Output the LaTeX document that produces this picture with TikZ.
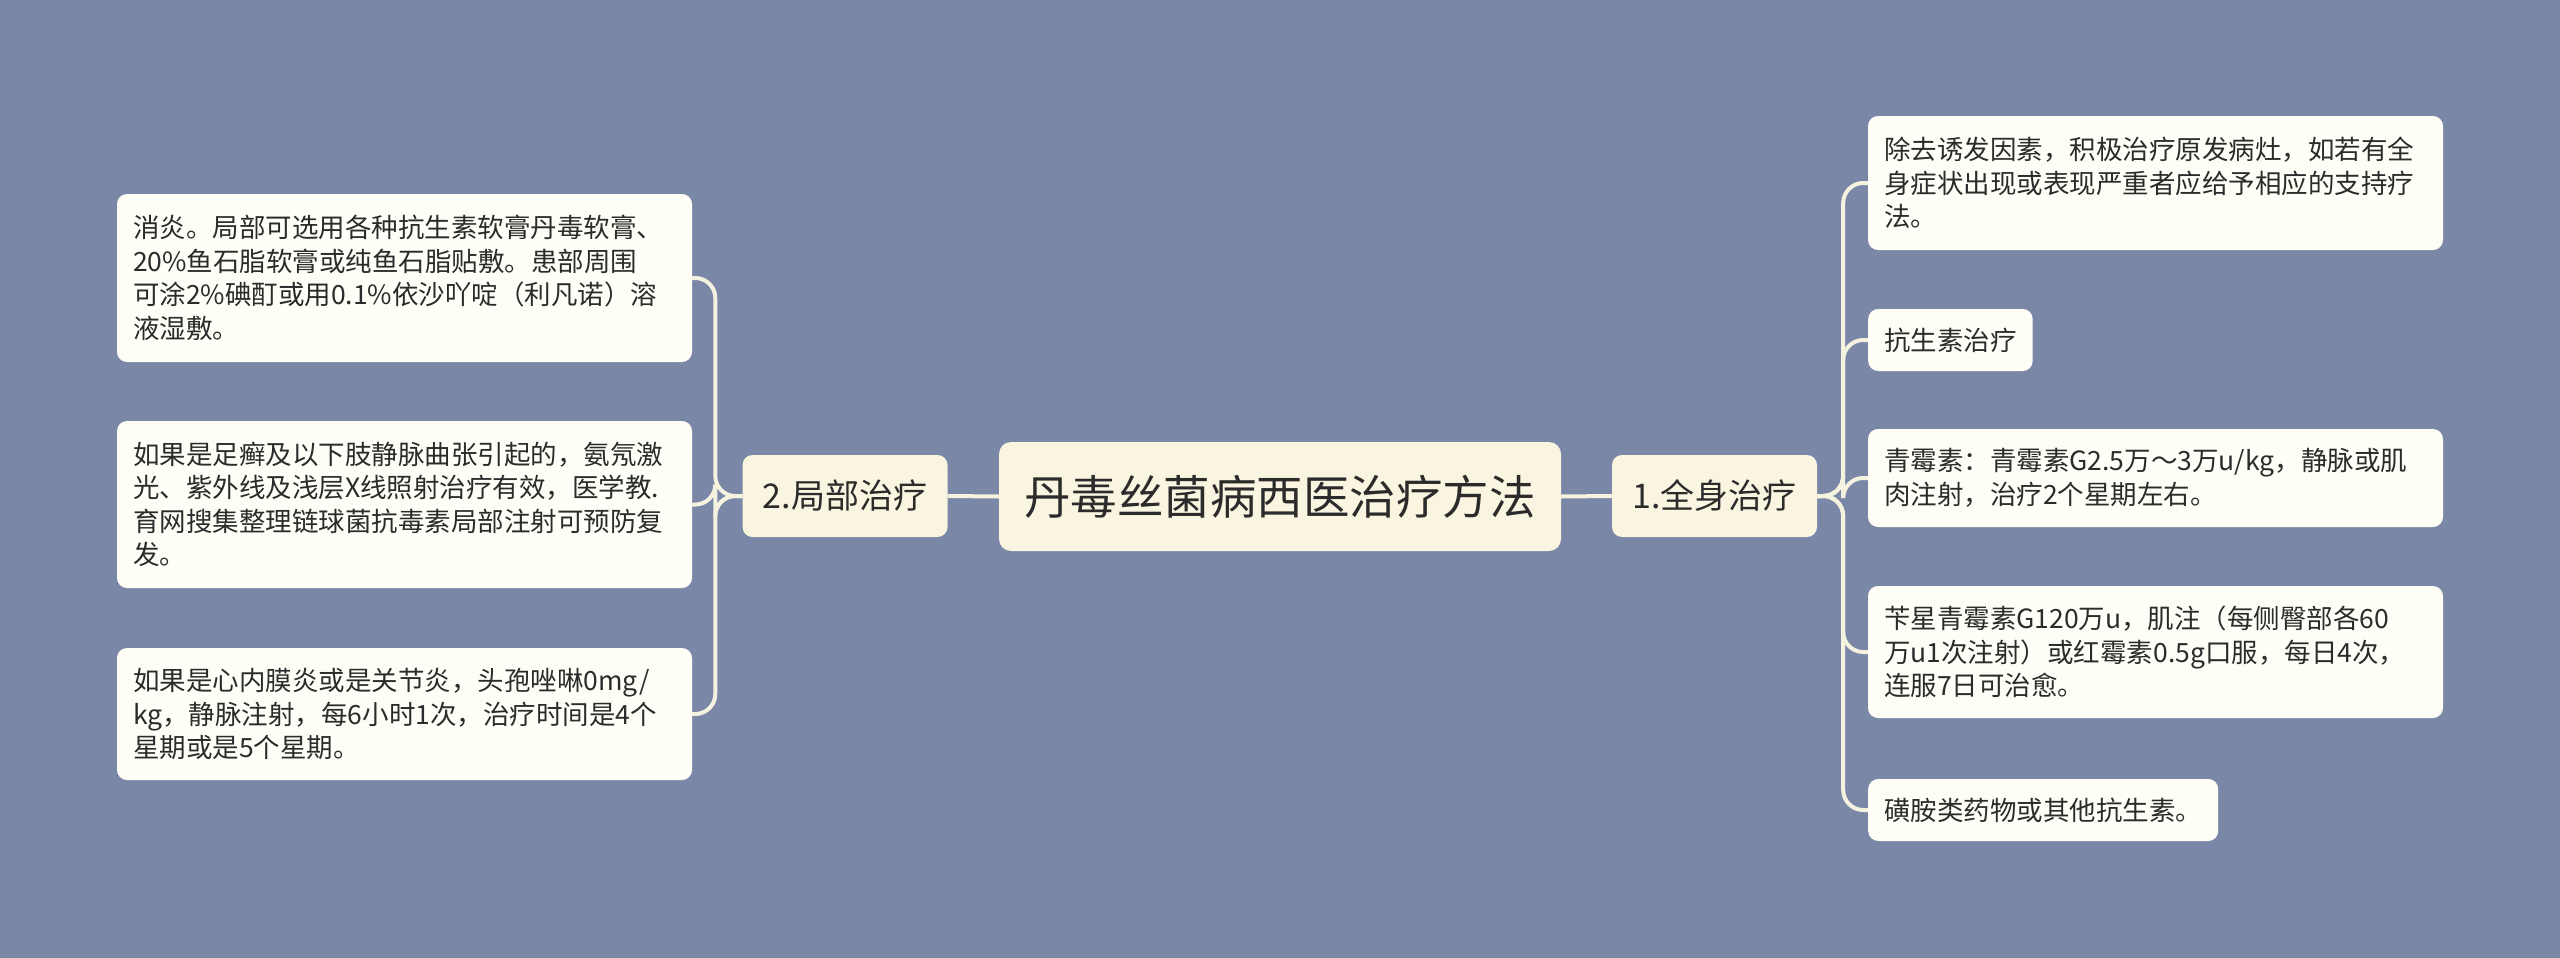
\documentclass[tikz,border=0pt]{standalone}
\usepackage{fontspec}
\setmainfont{Noto Sans CJK SC}
\usetikzlibrary{calc}
\definecolor{bg}{HTML}{7A87A7}
\definecolor{cream}{HTML}{FAF5E0}
\definecolor{leaffill}{HTML}{FFFEF6}
\definecolor{txt}{HTML}{2B2B2B}
\definecolor{conn}{HTML}{F6F2E0}
\begin{document}
\begin{tikzpicture}[x=1pt,y=-1pt,
  leaf/.style={fill=leaffill, rounded corners=10pt, text=txt, font=\fontsize{26.5}{33.5}\selectfont, inner xsep=16pt, inner ysep=0pt, align=left},
  wide/.style={leaf, text width=543pt},
  branch/.style={fill=cream, rounded corners=10pt, text=txt, font=\fontsize{34}{40}\selectfont, inner sep=0pt, minimum width=205pt, minimum height=82pt},
  root/.style={fill=cream, rounded corners=12pt, text=txt, font=\fontsize{46.5}{54}\selectfont, inner sep=0pt, minimum width=562pt, minimum height=109pt},
  link/.style={draw=conn, line width=4pt, rounded corners=20pt}]
\useasboundingbox (0,0) rectangle (2560,958);
\fill[bg] (0,0) rectangle (2560,958);

\node[root] (c) at (1280,496.5) {丹毒丝菌病西医治疗方法};
\node[branch] (n2) at (845,496) {2.局部治疗};
\node[branch] (n1) at (1714.5,496) {1.全身治疗};

\node[wide, minimum height=168pt] (l1) at (404.5,278) {消炎。局部可选用各种抗生素软膏丹毒软膏、\\20\%鱼石脂软膏或纯鱼石脂贴敷。患部周围\\可涂2\%碘酊或用0.1\%依沙吖啶（利凡诺）溶\\液湿敷。};
\node[wide, minimum height=167pt] (l2) at (404.5,504.5) {如果是足癣及以下肢静脉曲张引起的，氨氖激\\光、紫外线及浅层X线照射治疗有效，医学教.\\育网搜集整理链球菌抗毒素局部注射可预防复\\发。};
\node[wide, minimum height=132pt] (l3) at (404.5,714) {如果是心内膜炎或是关节炎，头孢唑啉0mg/\\kg，静脉注射，每6小时1次，治疗时间是4个\\星期或是5个星期。};

\node[wide, minimum height=134pt] (r1) at (2155.5,183) {除去诱发因素，积极治疗原发病灶，如若有全\\身症状出现或表现严重者应给予相应的支持疗\\法。};
\node[leaf, minimum height=62pt, anchor=west] (r2) at (1868,340) {抗生素治疗};
\node[wide, minimum height=98pt] (r3) at (2155.5,478) {青霉素：青霉素G2.5万～3万u/kg，静脉或肌\\肉注射，治疗2个星期左右。};
\node[wide, minimum height=132pt] (r4) at (2155.5,652) {苄星青霉素G120万u，肌注（每侧臀部各60\\万u1次注射）或红霉素0.5g口服，每日4次，\\连服7日可治愈。};
\node[leaf, minimum height=62pt, anchor=west] (r5) at (1868,810) {磺胺类药物或其他抗生素。};

\path (n1.east) ++(26,0) coordinate (rj);
\path (n2.west) ++(-27,0) coordinate (lj);

\draw[link] (c.east) -- (n1.west);
\draw[link] (c.west) -- (n2.east);
\foreach \t in {r1,r2,r3,r4,r5} \draw[link] (n1.east) -- (rj) |- (\t.west);
\foreach \t in {l1,l2,l3} \draw[link] (n2.west) -- (lj) |- (\t.east);
\end{tikzpicture}
\end{document}
